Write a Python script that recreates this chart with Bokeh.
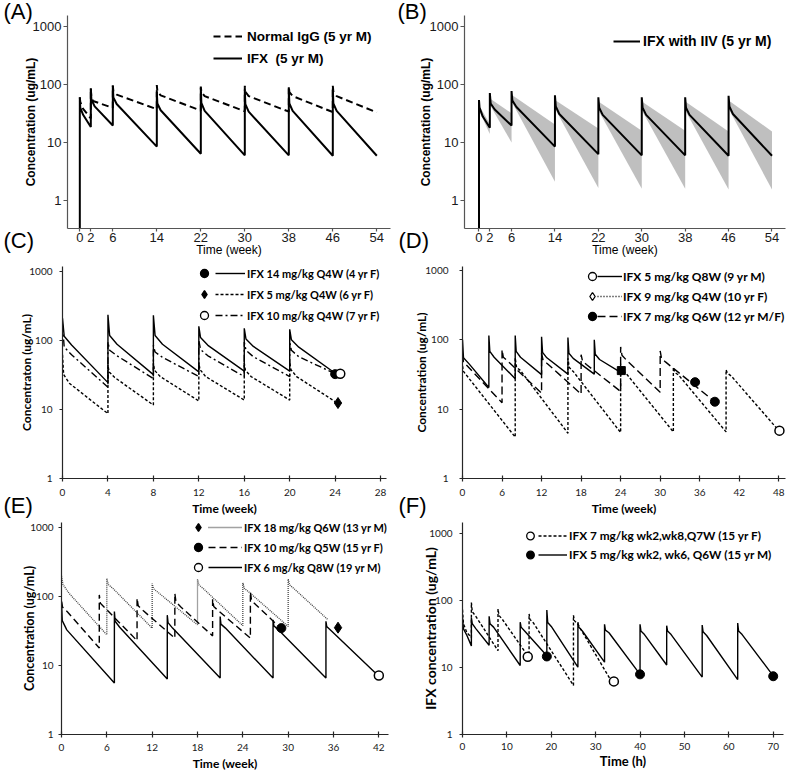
from bokeh.plotting import figure
from bokeh.layouts import column, row
from bokeh.models import (Range1d, FixedTicker, PrintfTickFormatter, Legend,
                          LegendItem, Title)
from bokeh.core.properties import value
from bokeh.embed import file_html
from bokeh.resources import INLINE

NAN = float("nan")

# ====================== DATA ======================
Y_TICKS = [1, 10, 100, 1000]

# ---- Panel A ----
a_xticks = [0, 2, 6, 14, 22, 30, 38, 46, 54]
a_ifx_t = [0, 0, 0.08, 0.6, 2, 2, 2.1, 2.7, 6, 6, 6.1, 6.7, 14, 14, 14.1, 14.7,
           22, 22, 22.1, 22.7, 30, 30, 30.1, 30.7, 38, 38, 38.1, 38.7, 46, 46, 46.1, 46.7, 54]
a_ifx_c = [0.05, 60, 40, 30, 18.5, 86, 55, 42, 19.6, 96, 60, 46, 8.5, 74, 47, 36,
           6.4, 88, 48, 35, 6.0, 82, 46, 34, 6.0, 85, 47, 35, 5.9, 85, 47, 35, 5.9]
a_igg_t = [0, 0.08, 0.6, 2, 2, 2.1, 2.4, 6, 6, 6.1, 6.7, 14, 14, 14.1, 14.7, 22,
           22, 22.1, 22.7, 30, 30, 30.1, 30.7, 38, 38, 38.1, 38.7, 46, 46, 46.1, 46.7, 54]
a_igg_c = [60, 50, 38, 26, 86, 60, 52, 39.5, 96, 76, 67, 37.5, 98, 76, 65, 35.5,
           92, 74, 63, 34.5, 95, 75, 63, 34, 93, 74, 63, 33.5, 95, 75, 63, 33]
a_labels = ["Normal IgG (5 yr M)", "IFX  (5 yr M)"]

# ---- Panel B ----
b_ifx_t = [0, 0, 0.1, 0.7, 2, 2, 2.15, 2.9, 6, 6, 6.15, 6.9, 14, 14, 14.15, 14.8,
           22, 22, 22.15, 22.8, 30, 30, 30.15, 30.8, 38, 38, 38.15, 38.8, 46, 46, 46.15, 46.8, 54]
b_ifx_c = [0.05, 54, 40, 28, 18, 71, 47, 37, 19.6, 77, 53, 41, 8.5, 65, 42, 31,
           6.3, 60, 40, 30, 6.0, 60, 40, 30, 6.0, 60, 40, 30, 5.9, 64, 42, 31, 5.9]
b_band_t0 = [0.1, 2.15, 6.15, 14.15, 22.15, 30.15, 38.15, 46.15]
b_band_t1 = [2, 6, 14, 22, 30, 38, 46, 54]
b_band_hi0 = [42, 56, 65, 53, 50, 50, 50, 52]
b_band_lo0 = [34, 42, 48, 36, 34, 34, 34, 36]
b_band_hi1 = [21, 32, 20.5, 17.5, 16, 16, 15.5, 15.5]
b_band_lo1 = [14, 10, 2.1, 1.65, 1.6, 1.6, 1.55, 1.55]
b_label = "IFX with IIV (5 yr M)"

# ---- Panel C ----
c_xticks = [0, 4, 8, 12, 16, 20, 24, 28]
c1_t = [0, 0.15, 0.8, 4, 4, 4.15, 4.8, 8, 8, 8.15, 8.8, 12, 12, 12.15, 12.8, 16,
        16, 16.15, 16.8, 20, 20, 20.15, 20.8, 24]
c1_c = [210, 115, 86, 24.5, 235, 118, 88, 32, 232, 118, 88, 35, 160, 110, 85, 36,
        150, 105, 82, 36, 145, 102, 80, 33.5]
c2_t = [0, 0.1, 0.6, 4, 4, 4.1, 4.6, 8, 8, 8.1, 8.6, 12, 12, 12.1, 12.6, 16,
        16, 16.1, 16.6, 20, 20, 20.1, 20.6, 24]
c2_c = [62, 32, 24, 8.7, 44, 35, 29, 11.6, 47, 37, 30, 13.3, 48, 38, 30, 13.7,
        47, 37, 30, 13.7, 48, 38, 30, 13]
c3_t = [0, 0.15, 0.8, 4, 4, 4.15, 4.8, 8, 8, 8.15, 8.8, 12, 12, 12.15, 12.8, 16,
        16, 16.15, 16.8, 20, 20, 20.15, 20.8, 24]
c3_c = [170, 80, 62, 21, 95, 72, 60, 28, 85, 68, 57, 30, 100, 74, 60, 30,
        95, 72, 58, 30, 95, 72, 58, 33]
c1_mk_t, c1_mk_c = [24.0], [32.5]
c2_mk_t, c2_mk_c = [24.25], [12.4]
c3_mk_t, c3_mk_c = [24.45], [33]
c_labels = ["IFX 14 mg/kg Q4W (4 yr F)", "IFX 5 mg/kg Q4W (6 yr F)", "IFX 10 mg/kg Q4W (7 yr F)"]

# ---- Panel D ----
d_xticks = [0, 6, 12, 18, 24, 30, 36, 42, 48]
d_q4w_t = [0, 0.15, 1.0, 4, 4, 4.15, 4.8, 8, 8, 8.15, 8.8, 12, 12, 12.15, 12.8, 16,
           16, 16.15, 16.8, 20, 20, 20.15, 20.8, 24]
d_q4w_c = [100, 55, 45, 20.5, 115, 68, 56, 27.5, 115, 68, 56, 31.5, 111, 66, 55, 32,
           108, 64, 54, 32, 100, 62, 52, 34]
d_q6w_t = [0, 0.15, 6, 6, 6.2, 6.8, 12, 12, 12.2, 12.8, 18, 18, 18.2, 18.8, 24,
           24, 24.2, 24.8, 30, 30, 30.2, 30.8, 38.3]
d_q6w_c = [62, 48, 12.4, 72, 56, 50, 17, 64, 52, 46, 16.5, 61, 50, 44, 18,
           79, 60, 52, 17.5, 69, 54, 48, 12.8]
d_q8w_t = [0, 0.15, 8, 8, 8.2, 8.8, 16, 16, 16.2, 16.8, 24, 24, 24.2, 24.8, 32,
           32, 32.2, 32.8, 40, 40, 40.2, 40.8, 48]
d_q8w_c = [42, 35, 3.95, 55, 40, 36, 4.5, 54, 40, 35, 4.6, 45, 37, 33, 4.7,
           40, 34, 31, 4.7, 37, 33, 30, 4.9]
d_q4w_mk_t, d_q4w_mk_c = [24.1], [36]
d_q6w_mk_t, d_q6w_mk_c = [35.3, 38.3], [24.5, 12.8]
d_q8w_mk_t, d_q8w_mk_c = [48.1], [4.9]
d_labels = ["IFX 5 mg/kg Q8W (9 yr M)", "IFX 9 mg/kg Q4W (10 yr F)", "IFX 7 mg/kg Q6W (12 yr M/F)"]

# ---- Panel E ----
e_xticks = [0, 6, 12, 18, 24, 30, 36, 42]
e_q6w_t = [0, 0.2, 1.0, 6, 6, 6.2, 6.8, 12, 12, 12.2, 12.8, 18, 18, 18.2, 18.8, 24,
           24, 24.2, 24.8, 30, 30, 30.2, 30.8, 35.2]
e_q6w_c = [200, 150, 112, 28, 184, 150, 132, 35, 155, 130, 115, 39, 180, 148, 130, 38,
           158, 132, 117, 37, 180, 148, 130, 47]
e_q5w_t = [0, 0.15, 0.8, 5, 5, 5.15, 5.8, 10, 10, 10.15, 10.8, 15, 15, 15.15, 15.8, 20,
           20, 20.15, 20.8, 25, 25, 25.15, 25.8, 29]
e_q5w_c = [85, 70, 60, 18, 106, 80, 68, 23, 95, 74, 63, 25, 112, 84, 71, 27,
           92, 72, 62, 25, 118, 88, 75, 35]
e_q7w_t = [0, 0.1, 0.7, 7, 7, 7.1, 7.7, 14, 14, 14.1, 14.7, 21, 21, 21.1, 21.7, 28,
           28, 28.1, 28.7, 35, 35, 35.1, 35.7, 42]
e_q7w_c = [85, 45, 33, 5.6, 61, 44, 36, 6.4, 54, 42, 35, 6.6, 51.5, 40, 35, 6.6,
           46, 38, 33, 6.6, 44, 37, 32, 7.0]
e_q6w_mk_t, e_q6w_mk_c = [36.6], [35.5]
e_q5w_mk_t, e_q5w_mk_c = [29.1], [35]
e_q7w_mk_t, e_q7w_mk_c = [42.0], [7.2]
e_labels = ["IFX 18 mg/kg Q6W (13 yr M)", "IFX 10 mg/kg Q5W (15 yr F)", "IFX 6 mg/kg Q8W (19 yr M)"]

# ---- Panel F ----
f_xticks = [0, 10, 20, 30, 40, 50, 60, 70]
f_q6w_t = [0, 0.2, 1.0, 2, 2, 2.2, 3.0, 6, 6, 6.2, 7.0, 13, 13, 13.2, 14.0, 19,
           19, 19.2, 20.0, 26, 26, 26.2, 27.0, 32, 32, 32.2, 33.0, 40, 40, 40.2, 41.0, 46,
           46, 46.2, 47.0, 54, 54, 54.2, 55.0, 62, 62, 62.2, 63.0, 70]
f_q6w_c = [55, 38, 30, 21, 55, 45, 38, 21.5, 58, 45, 40, 10.7, 47.5, 40, 35, 15,
           72, 47, 41, 10.1, 47.5, 40, 35, 12, 44, 36, 33, 7.9, 44, 35, 31, 10.9,
           42, 35, 31, 7.2, 43, 34, 30, 6.6, 46, 35, 31, 7.5]
f_q7w_t = [0, 0.2, 1.0, 2, 2, 2.2, 3.0, 8, 8, 8.2, 9.0, 15, 15, 15.2, 16.0, 25,
           25, 25.2, 26.0, 33.5]
f_q7w_c = [73, 45, 33, 28, 93, 68, 58, 17.8, 75, 60, 52, 14, 63, 52, 46, 5.4,
           60, 50, 44, 6.3]
f_q7w_mk_t, f_q7w_mk_c = [14.7, 34.1], [14.5, 6.2]
f_q6w_mk_t, f_q6w_mk_c = [19.0, 40.0, 70.0], [14.6, 7.9, 7.4]
f_labels = ["IFX 7 mg/kg wk2,wk8,Q7W (15 yr F)", "IFX 5 mg/kg wk2, wk6, Q6W (15 yr M)"]

# ====================== HELPERS ======================
ARIAL = "Liberation Sans"
CAL = "Lato"


def base_fig(w, h, left, right, top, bottom, xr, yr):
    p = figure(width=w, height=h, x_range=Range1d(*xr), y_range=Range1d(*yr),
               y_axis_type="log", output_backend="svg", toolbar_location=None,
               min_border_left=left, min_border_right=right,
               min_border_top=top, min_border_bottom=bottom)
    p.xgrid.grid_line_color = None
    p.ygrid.grid_line_color = None
    p.outline_line_color = None
    p.border_fill_color = "white"
    p.background_fill_color = "white"
    p.title.visible = False
    return p


def style_axes(p, font, xticks, xlabel, ylabel, tick_px, xlab_px, ylab_px, xlab_style,
               axis_color, x_in, x_out, y_out, x_std, y_std, x_tstd, y_tstd):
    xa, ya = p.xaxis[0], p.yaxis[0]
    xa.ticker = FixedTicker(ticks=xticks)
    ya.ticker = FixedTicker(ticks=Y_TICKS)
    ya.formatter = PrintfTickFormatter(format="%d")
    for ax in (xa, ya):
        ax.axis_line_color = axis_color
        ax.axis_line_width = 1.2
        ax.major_tick_line_color = axis_color
        ax.major_tick_line_width = 1.2
        ax.minor_tick_line_color = None
        ax.major_label_text_font = font
        ax.major_label_text_font_size = tick_px
        ax.major_label_text_color = "#1a1a1a"
        ax.axis_label_text_font = font
        ax.axis_label_text_color = "#000000"
    xa.major_tick_in = x_in
    xa.major_tick_out = x_out
    ya.major_tick_in = 0
    ya.major_tick_out = y_out
    xa.major_label_standoff = x_std
    ya.major_label_standoff = y_std
    xa.axis_label = xlabel
    ya.axis_label = ylabel
    xa.axis_label_text_font_size = xlab_px
    ya.axis_label_text_font_size = ylab_px
    xa.axis_label_text_font_style = xlab_style
    ya.axis_label_text_font_style = "bold"
    xa.axis_label_standoff = x_tstd
    ya.axis_label_standoff = y_tstd


def add_legend(p, items, loc, gw, gh, spacing, standoff, font, size, label_w=20):
    leg = Legend(items=items, location=loc, orientation="vertical",
                 glyph_width=gw, glyph_height=gh, label_height=gh,
                 label_width=label_w, label_standoff=standoff, spacing=spacing,
                 padding=0, margin=0, background_fill_alpha=0,
                 border_line_alpha=0, label_text_font=font,
                 label_text_font_size=size, label_text_font_style="bold",
                 label_text_color="#000000")
    p.add_layout(leg)


def top_letter(p, txt, offset):
    # panel letter drawn in the band above the frame
    t = p.title
    t.visible = True
    t.text = txt
    t.align = "left"
    t.offset = offset
    t.vertical_align = "top"
    t.standoff = -20
    t.text_font = ARIAL
    t.text_font_size = "22px"
    t.text_font_style = "normal"
    t.text_line_height = 1.0
    t.text_color = "#000000"


def bottom_letter(p, txt, offset, standoff):
    # panel letter of the next row, drawn under this figure's x axis
    t = Title(text=txt + "\n", align="left", offset=offset, vertical_align="top",
              standoff=standoff, text_font=ARIAL, text_font_size="22px",
              text_font_style="normal", text_line_height=1.0, text_color="#000000")
    p.add_layout(t, "below")


def mk_proxy(p, marker, fill, size=8):
    return p.scatter(x=[NAN], y=[NAN], marker=marker, size=size, fill_color=fill,
                     line_color="black", line_width=1.3)


def ln_proxy(p, dash, width=1.4, color="black"):
    return p.line(x=[NAN], y=[NAN], line_color=color, line_width=width, line_dash=dash)


# ====================== PANEL A ======================
pA = base_fig(395, 262, 67, 5, 15, 34, (-2.24, 56.49), (0.329, 1547))
style_axes(pA, ARIAL, a_xticks, "Time (week)", "Concentration (ug/mL)", "13px", "12px", "12px",
           "normal", "#555555", 0, 3, 4, 1, 2, -2, -8)
pA.line(a_igg_t, a_igg_c, line_color="black", line_width=2, line_dash="7 4")
pA.line(a_ifx_t, a_ifx_c, line_color="black", line_width=2)
add_legend(pA, [LegendItem(label=value(a_labels[0]), renderers=[ln_proxy(pA, "7 4", 2)]),
                LegendItem(label=value(a_labels[1]), renderers=[ln_proxy(pA, "solid", 2)])],
           (146, 159), 29, 22, 0, 5, ARIAL, "13.5px")
top_letter(pA, "(A)", -64)
bottom_letter(pA, "(C)", -64, -63)

# ====================== PANEL B ======================
pB = base_fig(395, 262, 69, 5, 15, 34, (-2.67, 56.49), (0.329, 1547))
style_axes(pB, ARIAL, a_xticks, "Time (week)", "Concentration (ug/mL)", "13px", "12px", "12px",
           "normal", "#555555", 0, 3, 4, 1, 2, -2, -6)
band_xs = [[t0, t1, t1, t0] for t0, t1 in zip(b_band_t0, b_band_t1)]
band_ys = [[h0, h1, l1, l0] for h0, h1, l1, l0 in zip(b_band_hi0, b_band_hi1, b_band_lo1, b_band_lo0)]
pB.patches(band_xs, band_ys, fill_color="#bfbfbf", line_color=None)
pB.line(b_ifx_t, b_ifx_c, line_color="black", line_width=2)
add_legend(pB, [LegendItem(label=value(b_label), renderers=[ln_proxy(pB, "solid", 2)])],
           (149, 176), 27, 22, 0, 3, ARIAL, "14px")
top_letter(pB, "(B)", -67)
bottom_letter(pB, "(D)", -66, -63)

# ====================== PANEL C ======================
pC = base_fig(395, 257, 62, 9, 4, 39, (0, 28.52), (1, 1179))
style_axes(pC, CAL, c_xticks, "Time (week)", "Concentraton (ug/mL)", "10px", "12px", "12px",
           "bold", "#262626", 3, 3, 3, 7, 7, 2, -8)
pC.line(c3_t, c3_c, line_color="black", line_width=1.4, line_dash="7 3 2 3")
pC.line(c2_t, c2_c, line_color="black", line_width=1.4, line_dash="3 2")
pC.line(c1_t, c1_c, line_color="black", line_width=1.4)
pC.scatter(c1_mk_t, c1_mk_c, marker="circle", size=9, fill_color="black", line_color="black")
pC.scatter(c2_mk_t, c2_mk_c, marker="diamond", size=11, fill_color="black", line_color="black")
pC.scatter(c3_mk_t, c3_mk_c, marker="circle", size=9, fill_color="white", line_color="black", line_width=1.5)
add_legend(pC, [LegendItem(label=value(""), renderers=[mk_proxy(pC, "circle", "black")]),
                LegendItem(label=value(""), renderers=[mk_proxy(pC, "diamond", "black")]),
                LegendItem(label=value(""), renderers=[mk_proxy(pC, "circle", "white")])],
           (131, 153), 22, 20, 1, 0, CAL, "11px", label_w=0)
add_legend(pC, [LegendItem(label=value(c_labels[0]), renderers=[ln_proxy(pC, "solid")]),
                LegendItem(label=value(c_labels[1]), renderers=[ln_proxy(pC, "3 2")]),
                LegendItem(label=value(c_labels[2]), renderers=[ln_proxy(pC, "7 3 2 3")])],
           (153, 153), 30, 20, 1, 2, CAL, "11px")
bottom_letter(pC, "(E)", -59, -51)

# ====================== PANEL D ======================
pD = base_fig(395, 257, 67, 5, 4, 39, (0, 49.02), (1, 1141))
style_axes(pD, CAL, d_xticks, "Time (week)", "Concentration (ug/mL)", "10px", "12px", "12px",
           "bold", "#262626", 3, 3, 3, 7, 11, 2, -7)
pD.line(d_q8w_t, d_q8w_c, line_color="black", line_width=1.4, line_dash="3 2")
pD.line(d_q6w_t, d_q6w_c, line_color="black", line_width=1.4, line_dash="8 4")
pD.line(d_q4w_t, d_q4w_c, line_color="black", line_width=1.4)
pD.scatter(d_q4w_mk_t, d_q4w_mk_c, marker="square", size=8, fill_color="black", line_color="black")
pD.scatter(d_q6w_mk_t, d_q6w_mk_c, marker="circle", size=9, fill_color="black", line_color="black")
pD.scatter(d_q8w_mk_t, d_q8w_mk_c, marker="circle", size=9, fill_color="white", line_color="black", line_width=1.5)
add_legend(pD, [LegendItem(label=value(""), renderers=[mk_proxy(pD, "circle", "white")]),
                LegendItem(label=value(""), renderers=[mk_proxy(pD, "diamond", "white", 7)]),
                LegendItem(label=value(""), renderers=[mk_proxy(pD, "circle", "black")])],
           (119, 152), 22, 20, 0, 0, CAL, "12px", label_w=0)
add_legend(pD, [LegendItem(label=value(d_labels[0]), renderers=[ln_proxy(pD, "solid")]),
                LegendItem(label=value(d_labels[1]), renderers=[ln_proxy(pD, "1 2")]),
                LegendItem(label=value(d_labels[2]), renderers=[ln_proxy(pD, "8 4")])],
           (135, 152), 25, 20, 0, 1, CAL, "12px")
bottom_letter(pD, "(F)", -64, -51)

# ====================== PANEL E ======================
pE = base_fig(395, 254, 61, 7, 3, 38, (0, 43.28), (1, 1193))
style_axes(pE, CAL, e_xticks, "Time (week)", "Concentration (ug/mL)", "10px", "12px", "12.5px",
           "bold", "#262626", 3, 3, 3, 6, 5, 2, -10)
pE.line(e_q6w_t, e_q6w_c, line_color="#444444", line_width=1.3, line_dash="1 1")
pE.line(e_q5w_t, e_q5w_c, line_color="black", line_width=1.4, line_dash="7 4")
pE.line(e_q7w_t, e_q7w_c, line_color="black", line_width=1.4)
pE.scatter(e_q6w_mk_t, e_q6w_mk_c, marker="diamond", size=11, fill_color="black", line_color="black")
pE.scatter(e_q5w_mk_t, e_q5w_mk_c, marker="circle", size=9, fill_color="black", line_color="black")
pE.scatter(e_q7w_mk_t, e_q7w_mk_c, marker="circle", size=9, fill_color="white", line_color="black", line_width=1.5)
add_legend(pE, [LegendItem(label=value(""), renderers=[mk_proxy(pE, "diamond", "black", 7)]),
                LegendItem(label=value(""), renderers=[mk_proxy(pE, "circle", "black")]),
                LegendItem(label=value(""), renderers=[mk_proxy(pE, "circle", "white")])],
           (126, 157), 22, 20, 0, 0, CAL, "11px", label_w=0)
add_legend(pE, [LegendItem(label=value(e_labels[0]), renderers=[ln_proxy(pE, "1 1", 1.3, "#444444")]),
                LegendItem(label=value(e_labels[1]), renderers=[ln_proxy(pE, "7 4")]),
                LegendItem(label=value(e_labels[2]), renderers=[ln_proxy(pE, "solid")])],
           (147, 157), 34, 20, 0, 2, CAL, "11px")

# ====================== PANEL F ======================
pF = base_fig(395, 254, 67, 7, 3, 38, (0, 72.32), (1, 1456))
style_axes(pF, CAL, f_xticks, "Time (h)", "IFX concentration (ug/mL)", "10px", "13px", "14px",
           "bold", "#262626", 3, 3, 3, 5, 7, 0, -13)
pF.line(f_q7w_t, f_q7w_c, line_color="black", line_width=1.4, line_dash="3 2")
pF.line(f_q6w_t, f_q6w_c, line_color="black", line_width=1.4)
pF.scatter(f_q7w_mk_t, f_q7w_mk_c, marker="circle", size=9, fill_color="white", line_color="black", line_width=1.5)
pF.scatter(f_q6w_mk_t, f_q6w_mk_c, marker="circle", size=9, fill_color="black", line_color="black")
add_legend(pF, [LegendItem(label=value(""), renderers=[mk_proxy(pF, "circle", "white")]),
                LegendItem(label=value(""), renderers=[mk_proxy(pF, "circle", "black")])],
           (57, 170.5), 22, 19, 0, 0, CAL, "12px", label_w=0)
add_legend(pF, [LegendItem(label=value(f_labels[0]), renderers=[ln_proxy(pF, "3 2")]),
                LegendItem(label=value(f_labels[1]), renderers=[ln_proxy(pF, "solid")])],
           (76, 170.5), 29, 19, 0, 2, CAL, "11.8px")

layout = column(row(pA, pB), row(pC, pD), row(pE, pF))
open("out.html", "w").write(file_html(layout, INLINE))
